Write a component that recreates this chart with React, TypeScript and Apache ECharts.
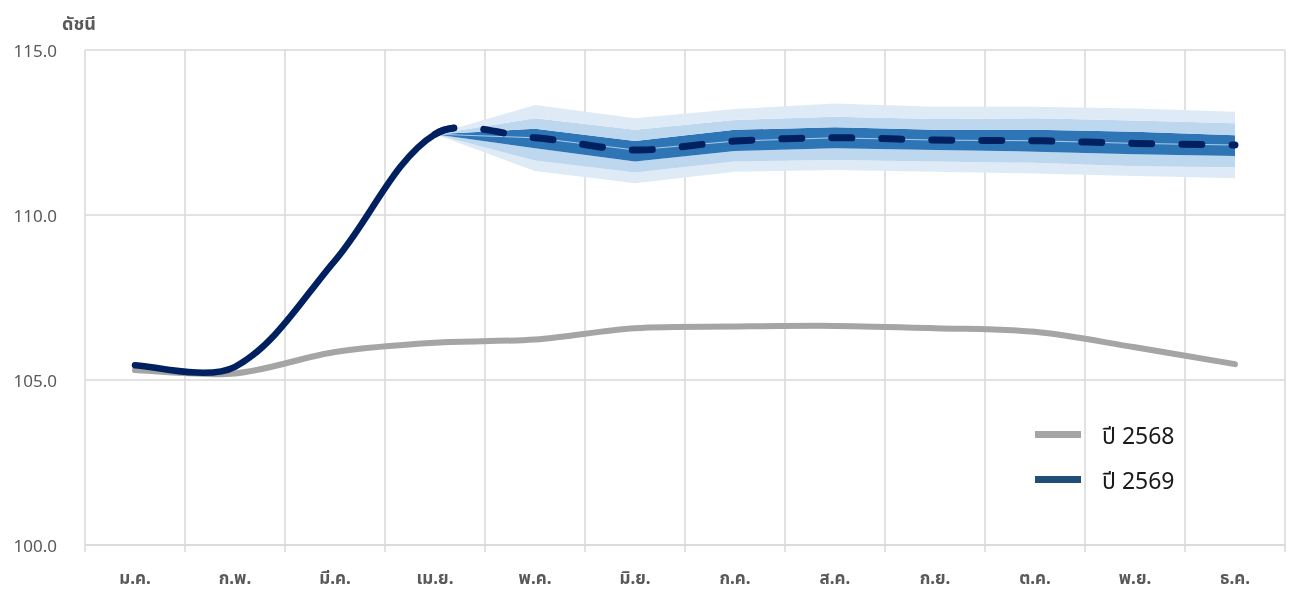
import React, { useEffect, useRef } from "react";
import * as echarts from "echarts";

const months = ["ม.ค.", "ก.พ.", "มี.ค.", "เม.ย.", "พ.ค.", "มิ.ย.", "ก.ค.", "ส.ค.", "ก.ย.", "ต.ค.", "พ.ย.", "ธ.ค."];
const yTicks = [100, 105, 110, 115];

// ปี 2568 (gray)
const y2568 = [105.3, 105.2, 105.85, 106.13, 106.23, 106.57, 106.62, 106.64, 106.57, 106.46, 105.99, 105.48];
// ปี 2569 actual (Jan-Apr)
const y2569Actual = [105.45, 105.4, 108.62, 112.45];
// forecast (Apr-Dec)
const fcCenter = [112.45, 112.34, 111.97, 112.24, 112.34, 112.27, 112.25, 112.17, 112.12];
const fcOuterLow = [112.45, 111.33, 110.96, 111.31, 111.36, 111.31, 111.26, 111.18, 111.11];
const fcMidLow = [112.45, 111.65, 111.29, 111.62, 111.67, 111.62, 111.58, 111.48, 111.45];
const fcInnerLow = [112.45, 112.02, 111.62, 111.94, 112.02, 111.97, 111.92, 111.84, 111.79];
const fcInnerHigh = [112.45, 112.61, 112.24, 112.58, 112.66, 112.58, 112.58, 112.52, 112.42];
const fcMidHigh = [112.45, 112.93, 112.58, 112.88, 112.98, 112.91, 112.93, 112.86, 112.78];
const fcOuterHigh = [112.45, 113.33, 112.93, 113.21, 113.38, 113.28, 113.28, 113.23, 113.13];

const FONT = "'Noto Sans', 'Noto Sans Thai', Tahoma, sans-serif";
const NAVY = "#002060";
const GRAY = "#A5A5A5";
const SOLID_END = 0.22; // fraction of the เม.ย.–พ.ค. segment the solid line runs on

type P = [number, number];
type Seg = [P, P, P, P];

const dist = (a: P, b: P) => Math.hypot(a[0] - b[0], a[1] - b[1]);

// Spreadsheet-style smoothed line: Bezier control points along (next - prev),
// split by the lengths of the neighbouring segments.
function smoothSegs(pts: P[]): Seg[] {
  const n = pts.length;
  const cpIn: P[] = [];
  const cpOut: P[] = [];
  for (let i = 0; i < n; i++) {
    const p = pts[i];
    const prev = pts[i - 1];
    const next = pts[i + 1];
    if (!prev || !next) {
      const other = prev || next;
      const c: P = [p[0] + (other[0] - p[0]) / 6, p[1] + (other[1] - p[1]) / 6];
      cpIn[i] = c;
      cpOut[i] = c;
      continue;
    }
    const vx = next[0] - prev[0];
    const vy = next[1] - prev[1];
    const d0 = dist(p, prev);
    const d1 = dist(p, next);
    const k = 1 / 3;
    const rOut = (k * d1) / (d0 + d1);
    const rIn = (k * d0) / (d0 + d1);
    cpOut[i] = [p[0] + vx * rOut, p[1] + vy * rOut];
    cpIn[i] = [p[0] - vx * rIn, p[1] - vy * rIn];
  }
  const segs: Seg[] = [];
  for (let i = 0; i < n - 1; i++) segs.push([pts[i], cpOut[i], cpIn[i + 1], pts[i + 1]]);
  return segs;
}

function splitSeg(s: Seg, t: number): Seg {
  const lerp = (a: P, b: P): P => [a[0] + (b[0] - a[0]) * t, a[1] + (b[1] - a[1]) * t];
  const a = lerp(s[0], s[1]);
  const b = lerp(s[1], s[2]);
  const c = lerp(s[2], s[3]);
  const d = lerp(a, b);
  const e = lerp(b, c);
  const f = lerp(d, e);
  return [s[0], a, d, f];
}

function segsToPath(segs: Seg[]): string {
  if (!segs.length) return "";
  let d = `M${segs[0][0][0]},${segs[0][0][1]}`;
  for (const s of segs) d += ` C${s[1][0]},${s[1][1]} ${s[2][0]},${s[2][1]} ${s[3][0]},${s[3][1]}`;
  return d;
}

export default function App() {
  const ref = useRef<HTMLDivElement>(null);
  useEffect(() => {
    if (!ref.current) return;
    const chart = echarts.init(ref.current, null, { renderer: "svg" });
    const pad = (arr: (number | null)[]) => [null, null, null, ...arr];
    const diff = (a: number[], b: number[]) => a.map((v, i) => v - b[i]);
    const full2569 = [...y2569Actual.slice(0, 3), ...fcCenter];

    const bandSeries = (name: string, data: (number | null)[], color: string | null) => ({
      name,
      type: "line",
      stack: "band",
      data,
      symbol: "none",
      silent: true,
      smooth: false,
      lineStyle: { width: 0, opacity: 0 },
      areaStyle: color ? { color, opacity: 1 } : undefined,
      z: 1,
    });

    const pixelPts = (api: any, vals: number[]): P[] => vals.map((v, i) => api.coord([i, v]) as P);

    const curveSeries = (
      name: string,
      vals: number[],
      pick: (segs: Seg[]) => Seg[],
      style: any,
      z: number,
      color: string
    ) => ({
      name,
      type: "custom",
      data: vals.map((v, i) => [i, v]),
      encode: { x: 0, y: 1 },
      color,
      z,
      silent: true,
      renderItem: (params: any, api: any) => {
        if (params.dataIndex !== 0) return { type: "group", children: [] };
        const segs = pick(smoothSegs(pixelPts(api, vals)));
        return {
          type: "path",
          shape: { pathData: segsToPath(segs) },
          style: { fill: "none", ...style },
        };
      },
    });

    chart.setOption({
      animation: false,
      textStyle: { fontFamily: FONT },
      grid: { left: 85, right: 8, top: 50, bottom: 47, containLabel: false },
      title: {
        text: "ดัชนี",
        left: 57,
        top: 9,
        textStyle: { fontSize: 18, fontWeight: "bold", color: "#595959", fontFamily: FONT },
      },
      legend: {
        orient: "vertical",
        left: 1030,
        top: 417,
        itemWidth: 46,
        itemHeight: 7,
        itemGap: 20,
        icon: "rect",
        textStyle: { fontSize: 23, color: "#1a1a1a", padding: [0, 0, 0, 16], lineHeight: 25, fontFamily: FONT },
        data: [
          { name: "ปี 2568", itemStyle: { color: GRAY } },
          { name: "ปี 2569", itemStyle: { color: "#1F4E79" } },
        ],
      },
      xAxis: {
        type: "category",
        data: months,
        boundaryGap: true,
        axisLine: { show: true, lineStyle: { color: "#D9D9D9", width: 1.5 } },
        axisTick: { show: true, length: 7, lineStyle: { color: "#D9D9D9", width: 1.5 } },
        splitLine: { show: true, lineStyle: { color: "#D9D9D9", width: 1.5 } },
        axisLabel: { color: "#595959", fontSize: 17, fontWeight: "bold", margin: 24, fontFamily: FONT },
      },
      yAxis: {
        type: "value",
        min: yTicks[0],
        max: yTicks[yTicks.length - 1],
        interval: 5,
        axisLine: { show: false },
        axisTick: { show: false },
        splitLine: { show: true, lineStyle: { color: "#D9D9D9", width: 1.5 } },
        axisLabel: {
          color: "#595959",
          fontSize: 17,
          margin: 28,
          fontFamily: FONT,
          formatter: (v: number) => v.toFixed(1),
        },
      },
      series: [
        bandSeries("b0", pad(fcOuterLow), null),
        bandSeries("b1", pad(diff(fcMidLow, fcOuterLow)), "#DEEBF7"),
        bandSeries("b2", pad(diff(fcInnerLow, fcMidLow)), "#BDD7EE"),
        bandSeries("b3", pad(diff(fcInnerHigh, fcInnerLow)), "#2E75B6"),
        bandSeries("b4", pad(diff(fcMidHigh, fcInnerHigh)), "#BDD7EE"),
        bandSeries("b5", pad(diff(fcOuterHigh, fcMidHigh)), "#DEEBF7"),
        {
          name: "center",
          type: "line",
          data: pad(fcCenter),
          symbol: "none",
          silent: true,
          lineStyle: { color: "#A9CBEA", width: 1 },
          z: 2,
        },
        curveSeries(
          "ปี 2568",
          y2568,
          (s) => s,
          { stroke: GRAY, lineWidth: 6, lineCap: "round", lineJoin: "round" },
          3,
          GRAY
        ),
        curveSeries(
          "forecast",
          full2569,
          (s) => s.slice(3),
          { stroke: NAVY, lineWidth: 7, lineCap: "round", lineDash: [20, 30] },
          4,
          NAVY
        ),
        curveSeries(
          "ปี 2569",
          full2569,
          (s) => [...s.slice(0, 3), splitSeg(s[3], SOLID_END)],
          { stroke: NAVY, lineWidth: 6.5, lineCap: "round", lineJoin: "round" },
          5,
          "#1F4E79"
        ),
      ],
    });
    return () => chart.dispose();
  }, []);
  return <div ref={ref} style={{ position: "fixed", left: 0, top: 0, width: 1293, height: 592 }} />;
}
